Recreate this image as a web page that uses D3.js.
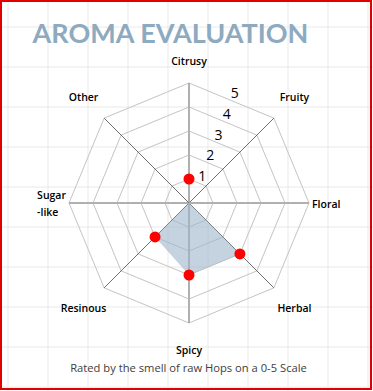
<!DOCTYPE html>
<html>
<head>
<meta charset="utf-8">
<script src="https://cdn.jsdelivr.net/npm/d3@7"></script>
<style>
  body { margin: 0; background: #fff; }
  svg { display: block; }
</style>
</head>
<body>
<svg id="svg" width="373" height="391"></svg>
<script>
// aroma categories, clockwise from the top
var categories = ["Citrusy", "Fruity", "Floral", "Herbal", "Spicy", "Resinous", "Sugar-like", "Other"];
var scores = [1, 0, 0, 3, 3, 2, 0, 0];
var levels = [1, 2, 3, 4, 5];

var svg = d3.select('#svg');
var W = 373, H = 391;
var cx = 189, cy = 203, R = 120;

// spreadsheet cell grid behind the chart
var gx = d3.range(8, W, 40), gy = d3.range(27, H, 40);
svg.append("g").selectAll("line").data(gx).enter().append("line")
  .attr("x1", function(d){ return d; }).attr("x2", function(d){ return d; })
  .attr("y1", 0).attr("y2", H)
  .attr("stroke", "#e9e9e9").attr("stroke-width", 1);
svg.append("g").selectAll("line").data(gy).enter().append("line")
  .attr("y1", function(d){ return d; }).attr("y2", function(d){ return d; })
  .attr("x1", 0).attr("x2", W)
  .attr("stroke", "#e9e9e9").attr("stroke-width", 1);

var rScale = d3.scaleLinear().domain([0, 5]).range([0, R]);
var angle = d3.scalePoint().domain(categories).range([0, 2 * Math.PI * 7 / 8]);

function px(cat, v){ return cx + rScale(v) * Math.sin(angle(cat)); }
function py(cat, v){ return cy - rScale(v) * Math.cos(angle(cat)); }

// rings
var ring = d3.line().x(function(d){ return d[0]; }).y(function(d){ return d[1]; }).curve(d3.curveLinearClosed);
svg.append("g").selectAll("path").data(levels).enter().append("path")
  .attr("d", function(l){
    return ring(categories.map(function(c){ return [px(c, l), py(c, l)]; }));
  })
  .attr("fill", "none").attr("stroke", "#c4c4c4").attr("stroke-width", 1);

// spokes
svg.append("g").selectAll("line").data(categories).enter().append("line")
  .attr("x1", cx).attr("y1", cy)
  .attr("x2", function(c){ return px(c, 5); })
  .attr("y2", function(c){ return py(c, 5); })
  .attr("stroke", function(c, i){ return i % 2 == 0 ? "#b0b0b0" : "#6e6e6e"; })
  .attr("stroke-width", function(c, i){ return i % 2 == 0 ? 2 : 1; });

// data area
svg.append("path")
  .attr("d", ring(categories.map(function(c, i){ return [px(c, scores[i]), py(c, scores[i])]; })))
  .attr("fill", "#9db6c9").attr("fill-opacity", 0.6).attr("stroke", "none");

svg.append("g").selectAll("circle")
  .data(categories.map(function(c, i){ return {c: c, v: scores[i]}; }).filter(function(d){ return d.v > 0; }))
  .enter().append("circle")
  .attr("cx", function(d){ return px(d.c, d.v); })
  .attr("cy", function(d){ return py(d.c, d.v); })
  .attr("r", 5.5)
  .attr("fill", "#ff0000");

// scale numbers
svg.append("g").selectAll("text").data(levels).enter().append("text")
  .attr("x", function(l){ return cx + 5 + rScale(l) * 0.34; })
  .attr("y", function(l){ return cy - 6 - rScale(l) * 0.865; })
  .attr("dy", "0.35em")
  .attr("text-anchor", "middle")
  .attr("font-family", "'Open Sans', sans-serif")
  .attr("font-size", "14px")
  .attr("fill", "#000")
  .text(function(l){ return l; });

// category labels
var labG = svg.append("g")
  .attr("font-family", "'Open Sans', sans-serif")
  .attr("font-size", "10.5px")
  .attr("font-weight", 600)
  .attr("fill", "#000");

categories.forEach(function(c){
  var a = angle(c);
  var s = Math.round(Math.sin(a) * 100) / 100, k = Math.round(Math.cos(a) * 100) / 100;
  var t = labG.append("text").attr("dy", "0.35em");
  if (s == 0) {
    var pad = k > 0 ? 22 : 27;
    t.attr("x", px(c, 5)).attr("y", py(c, 5) - k * pad).attr("text-anchor", "middle").text(c);
  } else if (k == 0) {
    var parts = c.indexOf("-") > 0 ? [c.slice(0, c.indexOf("-")), c.slice(c.indexOf("-"))] : [c];
    var x0 = px(c, 5) + s * 3;
    if (s > 0) {
      t.attr("x", x0).attr("y", py(c, 5) + 1).attr("text-anchor", "start").text(c);
    } else {
      t.remove();
      var lines = parts.map(function(p, i){
        return labG.append("text").attr("dy", "0.35em")
          .attr("y", py(c, 5) - 8 + i * 17 * (parts.length > 1 ? 1 : 0) + (parts.length > 1 ? 0 : 8))
          .text(p);
      });
      var wMax = d3.max(lines, function(l){ return l.node().getComputedTextLength(); });
      lines.forEach(function(l){ l.attr("x", x0 - wMax); });
    }
  } else {
    t.attr("x", px(c, 5) + s * 29).attr("y", py(c, 5) - k * 29)
      .attr("text-anchor", "middle").text(c);
  }
});

// title and note
svg.append("text")
  .attr("x", 170.5).attr("y", 43)
  .attr("text-anchor", "middle")
  .attr("font-family", "Lato, sans-serif")
  .attr("font-weight", 700)
  .attr("font-size", "27px")
  .attr("fill", "#8eaabf")
  .text("AROMA EVALUATION");

svg.append("text")
  .attr("x", 188.5).attr("y", 368).attr("dy", "0.35em")
  .attr("text-anchor", "middle")
  .attr("font-family", "'Open Sans', sans-serif")
  .attr("font-size", "11.2px")
  .attr("fill", "#404040")
  .text("Rated by the smell of raw Hops on a 0-5 Scale");

// red frame
svg.append("rect")
  .attr("x", 1).attr("y", 1).attr("width", 370).attr("height", 388)
  .attr("fill", "none").attr("stroke", "#e00000").attr("stroke-width", 2);
</script>
</body>
</html>
